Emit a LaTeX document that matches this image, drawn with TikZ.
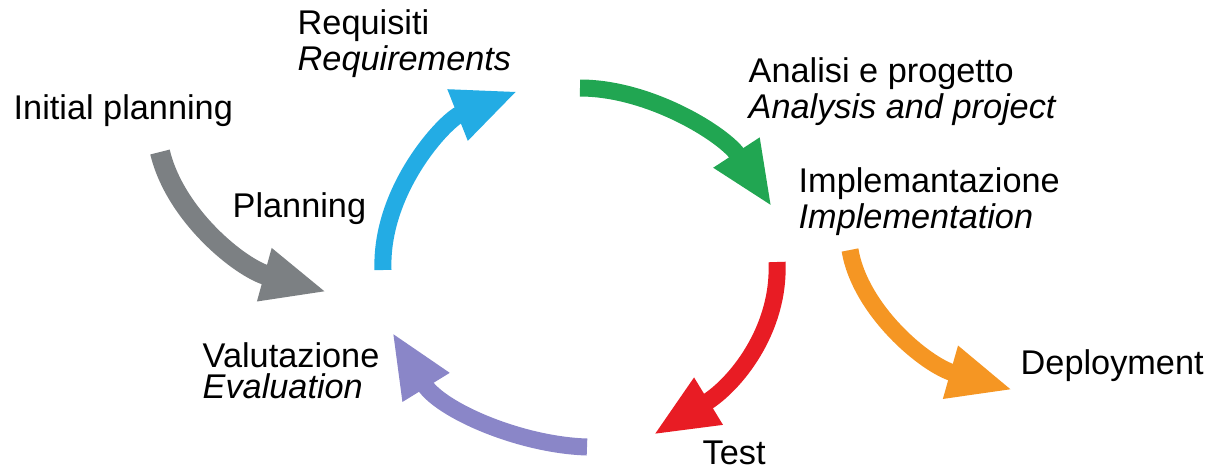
\documentclass[tikz,border=0pt]{standalone}
\usepackage{fontspec}
\setmainfont{Liberation Sans}
\usetikzlibrary{arrows.meta}
\definecolor{initgray}{RGB}{124,128,131}
\definecolor{reqblue}{RGB}{35,172,228}
\definecolor{anagreen}{RGB}{33,166,82}
\definecolor{testred}{RGB}{232,28,36}
\definecolor{deporange}{RGB}{245,150,35}
\definecolor{evalpurple}{RGB}{138,134,200}
\newcommand{\shaft}{1.7mm}
\newcommand{\headlen}{6.5mm}
\newcommand{\headwid}{5mm}
\tikzset{
  phasetext/.style={anchor=base west, inner sep=0pt, align=left,
    font=\fontsize{9.75pt}{8.8pt}\selectfont},
  cyclearrow/.style={line width=\shaft,
    -{Triangle[length=\headlen, width=\headwid]}}
}

\begin{document}
\begin{tikzpicture}[x=0.01cm, y=-0.01cm]
\useasboundingbox (0,0) rectangle (1208,466);
%two-line texts sit on their last baseline
\node[phasetext] (initial) at (13,119) {Initial planning};
\node[phasetext] (req) at (297,70) {Requisiti\\\textit{Requirements}};
\node[phasetext] (ana) at (748,118) {Analisi e progetto\\\textit{Analysis and project}};
\node[phasetext] (impl) at (798,228) {Implemantazione\\\textit{Implementation}};
\node[phasetext] (plan) at (232,217) {Planning};
\node[phasetext] (eval) at (202,398) {Valutazione\\\textit{Evaluation}};
\node[phasetext] (test) at (702,464) {Test};
\node[phasetext] (deploy) at (1020,374) {Deployment};
%ends of the arrows
\coordinate (g1) at (160,152);
\coordinate (g2) at (327,292);
\coordinate (b1) at (383,270);
\coordinate (b2) at (518,91);
\coordinate (gr1) at (580,88);
\coordinate (gr2) at (772,207);
\coordinate (r1) at (777,262);
\coordinate (r2) at (653,435);
\coordinate (o1) at (850,250);
\coordinate (o2) at (1013,390);
\coordinate (p1) at (587,447);
\coordinate (p2) at (392,332);
%initial planning
\draw[cyclearrow, initgray, line width=2mm] (g1) .. controls (175,215) and (240,268) .. (g2);
%planning
\draw[cyclearrow, reqblue] (b1) .. controls (380,190) and (445,120) .. (b2);
%requirements
\draw[cyclearrow, anagreen] (gr1) .. controls (650,88) and (725,135) .. (gr2);
%implementation
\draw[cyclearrow, testred] (r1) .. controls (780,330) and (735,385) .. (r2);
%deployment
\draw[cyclearrow, deporange] (o1) .. controls (860,310) and (925,365) .. (o2);
%test
\draw[cyclearrow, evalpurple] (p1) .. controls (520,445) and (440,410) .. (p2);
\end{tikzpicture}
\end{document}
